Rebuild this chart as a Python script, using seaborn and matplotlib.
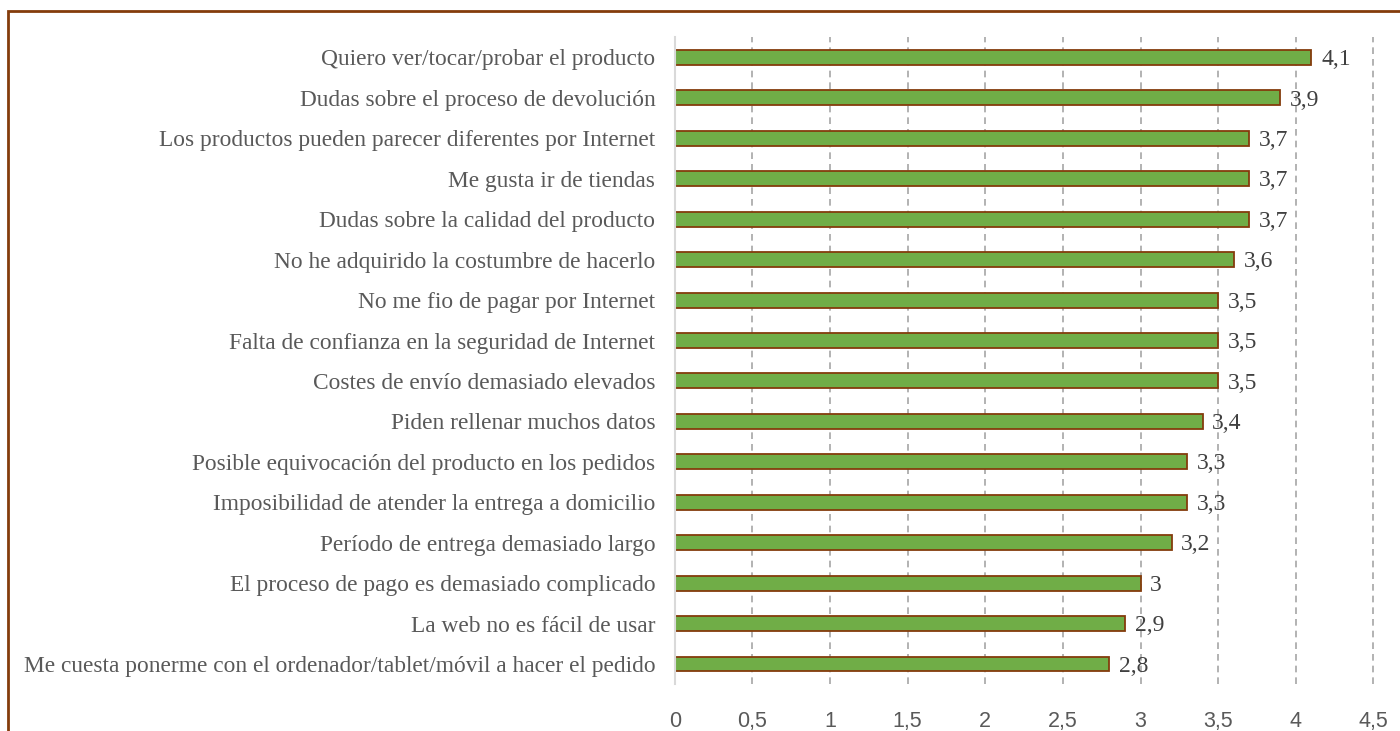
import pandas as pd
import matplotlib
matplotlib.use("Agg")
import matplotlib.pyplot as plt
import seaborn as sns
from matplotlib.patches import Rectangle

# ---------------------------------
# DATA
# ---------------------------------

motivos = [
    "Quiero ver/tocar/probar el producto",
    "Dudas sobre el proceso de devolución",
    "Los productos pueden parecer diferentes por Internet",
    "Me gusta ir de tiendas",
    "Dudas sobre la calidad del producto",
    "No he adquirido la costumbre de hacerlo",
    "No me fio de pagar por Internet",
    "Falta de confianza en la seguridad de Internet",
    "Costes de envío demasiado elevados",
    "Piden rellenar muchos datos",
    "Posible equivocación del producto en los pedidos",
    "Imposibilidad de atender la entrega a domicilio",
    "Período de entrega demasiado largo",
    "El proceso de pago es demasiado complicado",
    "La web no es fácil de usar",
    "Me cuesta ponerme con el ordenador/tablet/móvil a hacer el pedido",
]
valores = [4.1, 3.9, 3.7, 3.7, 3.7, 3.6, 3.5, 3.5, 3.5, 3.4, 3.3, 3.3, 3.2, 3.0, 2.9, 2.8]
ticks_x = [0, 0.5, 1, 1.5, 2, 2.5, 3, 3.5, 4, 4.5]

df = pd.DataFrame({"Motivo": motivos, "Valor": valores})

sns.set_style("white")

# ---------------------------------
# CHART
# ---------------------------------

fig = plt.figure(figsize=(14, 7.31), dpi=100)
ax = fig.add_axes([0.482, 0.064, 0.499, 0.885])

sns.barplot(
    data=df,
    y="Motivo",
    x="Valor",
    order=motivos,
    orient="h",
    color="#70AD47",
    edgecolor="#843C0C",
    linewidth=1.3,
    width=0.37,
    saturation=1,
    ax=ax,
)

ax.set_xlim(0, 4.5)
ax.set_ylim(len(motivos) - 0.5, -0.5)
ax.set_xticks(ticks_x)
ax.set_xticklabels([f"{t:g}".replace(".", ",") for t in ticks_x],
                   fontsize=15.5, color="#595959", family="Liberation Sans")
ax.set_yticks(range(len(motivos)))
ax.set_yticklabels(motivos, fontsize=16.8, color="#595959", family="Liberation Serif")
ax.tick_params(axis="y", length=0, pad=14)
ax.tick_params(axis="x", length=0, pad=19)

for t in ticks_x[1:]:
    ax.axvline(t, color="#A6A6A6", linestyle=(0, (4, 3)), linewidth=1.2,
               zorder=0, clip_on=False)

for s in ["top", "right", "bottom"]:
    ax.spines[s].set_visible(False)
ax.spines["left"].set_color("#D9D9D9")
ax.spines["left"].set_linewidth(1.5)

ax.set_xlabel("")
ax.set_ylabel("")

for i, v in enumerate(valores):
    etiqueta = f"{v:g}".replace(".", ",")
    ax.annotate(etiqueta, (v, i), xytext=(7, -1.5), textcoords="offset points",
                va="center", ha="left", fontsize=17, color="#404040",
                family="Liberation Serif")

# outer frame (only top and left visible in the crop)
fig.patches.append(Rectangle((8 / 1400, -0.1), 1.2, 1 - 11 / 731 + 0.1,
                             transform=fig.transFigure, fill=False,
                             edgecolor="#843C0C", linewidth=2))

fig.savefig("out.png", dpi=100)
